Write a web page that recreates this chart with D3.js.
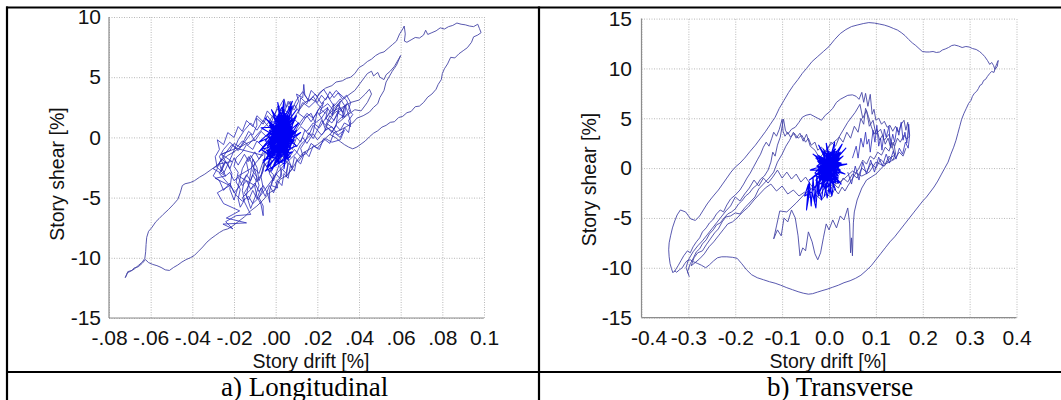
<!DOCTYPE html>
<html lang="en">
<head>
<meta charset="UTF-8" />
<title>Story shear vs story drift</title>
<script src="https://d3js.org/d3.v7.min.js"></script>
<style>
  body { margin: 0; background: #fff; }
  svg { display: block; }
  .grid line { stroke: #b8b8b8; stroke-dasharray: 1,1.5; }
  .outer { fill: none; stroke: #4646a6; stroke-width: 0.9; stroke-linejoin: round; }
  .band { fill: none; stroke: #2a2ab8; stroke-width: 0.8; stroke-linejoin: round; }
  .core { fill: none; stroke: #0000f5; stroke-width: 1.1; stroke-linejoin: round; }
</style>
</head>
<body>
<svg width="1061" height="400"></svg>
<script>
// ---- a) Longitudinal: [drift %, shear %] ----
const longXTicks = [-0.08, -0.06, -0.04, -0.02, 0, 0.02, 0.04, 0.06, 0.08, 0.1];
const longXLabels = ["-.08", "-.06", "-.04", "-.02", ".00", ".02", ".04", ".06", ".08", "0.1"];
const longYTicks = [-15, -10, -5, 0, 5, 10];

const longOuter = [
  [0.004,0.6],[0.008,1.4],[0.011,2.2],[0.014,2.9],[0.017,3.2],[0.019,3.0],[0.021,3.7],[0.024,4.1],[0.027,4.3],
  [0.029,4.6],[0.032,4.7],[0.034,4.9],[0.036,5.0],[0.038,5.3],[0.040,5.8],[0.042,6.0],[0.044,6.3],[0.046,6.5],
  [0.048,6.8],[0.050,7.0],[0.052,7.1],[0.054,7.4],[0.056,7.7],[0.058,8.0],[0.0595,8.6],[0.061,9.0],[0.0617,9.25],
  [0.0622,8.6],[0.0618,8.0],[0.063,7.9],[0.065,8.1],[0.067,8.3],[0.069,8.25],[0.071,8.5],[0.072,8.9],[0.073,8.55],
  [0.075,8.7],[0.077,8.85],[0.079,9.1],[0.081,9.0],[0.083,9.2],[0.085,9.3],[0.087,9.5],[0.089,9.4],[0.091,9.35],
  [0.093,9.25],[0.095,9.2],[0.097,9.4],[0.0978,9.05],[0.0986,8.7],[0.097,8.5],[0.095,8.35],[0.094,7.9],[0.092,7.45],
  [0.090,7.2],[0.088,6.95],[0.086,6.6],[0.084,6.65],[0.0825,6.1],[0.081,5.7],[0.080,5.3],[0.0795,4.8],[0.078,4.4],
  [0.077,4.0],[0.075,3.6],[0.073,3.35],[0.071,2.9],[0.069,2.6],[0.067,2.55],[0.065,2.15],[0.063,2.05],[0.061,1.75],
  [0.059,1.65],[0.057,1.3],[0.055,1.25],[0.053,1.0],[0.051,0.85],[0.049,0.55],[0.047,0.35],[0.045,0.05],[0.043,-0.3],
  [0.041,-0.55],[0.039,-0.8],[0.037,-0.95],[0.035,-0.8],[0.033,-0.6],[0.031,-0.35],[0.029,-0.05],[0.026,0.25],
  [0.023,-0.2],[0.020,-0.6],[0.016,-1.0],[0.013,-1.3],[0.010,-2.0],[0.008,-2.6],[0.005,-3.2],[0.002,-3.5],[0.000,-4.3],
  [-0.003,-4.6],[-0.006,-5.2],[-0.009,-5.7],[-0.012,-6.1],[-0.015,-6.6],[-0.018,-7.0],[-0.021,-7.4],[-0.023,-7.6],
  [-0.025,-7.7],[-0.027,-7.9],[-0.029,-8.15],[-0.031,-8.4],[-0.033,-8.7],[-0.035,-9.1],[-0.037,-9.45],[-0.039,-9.8],
  [-0.041,-10.0],[-0.043,-10.15],[-0.045,-10.35],[-0.047,-10.6],[-0.049,-10.8],[-0.051,-11.05],[-0.053,-11.0],
  [-0.055,-10.8],[-0.057,-10.65],[-0.059,-10.55],[-0.061,-10.4],[-0.0625,-10.15],[-0.064,-10.45],[-0.066,-10.75],
  [-0.068,-10.85],[-0.069,-11.05],[-0.071,-11.15],[-0.0715,-11.4],[-0.0722,-11.65],[-0.0712,-11.25],[-0.0695,-11.1],
  [-0.068,-10.95],[-0.066,-10.65],[-0.064,-10.35],[-0.0628,-10.05],[-0.0624,-9.5],[-0.0622,-8.9],[-0.0619,-8.3],
  [-0.061,-7.8],[-0.0595,-7.5],[-0.0575,-7.0],[-0.056,-6.75],[-0.054,-6.4],[-0.0515,-6.0],[-0.049,-5.55],[-0.047,-5.15],
  [-0.0458,-4.6],[-0.0448,-4.0],[-0.0435,-3.85],[-0.041,-3.75],[-0.039,-3.6],[-0.0365,-3.3],[-0.034,-3.05],
  [-0.032,-2.8],[-0.030,-2.55],[-0.028,-2.3],[-0.026,-1.9],[-0.023,-1.5],[-0.020,-1.2],[-0.017,-0.8],[-0.014,-0.5],[-0.010,-0.2]
];

const longUpper = [
  [0.024,1.6],[0.030,2.8],[0.034,3.4],[0.038,3.9],[0.041,4.6],[0.044,5.3],[0.046,5.5],[0.047,5.1],[0.049,5.4],
  [0.050,5.0],[0.052,4.8],[0.053,5.2],[0.055,5.5],[0.057,5.9],[0.059,6.5],[0.060,6.8],[0.058,6.0],[0.056,5.5],
  [0.053,4.6],[0.052,3.9],[0.050,3.3],[0.049,2.8],[0.047,2.5],[0.045,2.1],[0.042,1.8],[0.039,1.6],[0.037,1.2],
  [0.034,0.9],[0.031,0.6],[0.028,0.4],[0.024,0.9],[0.028,2.0],[0.032,2.5],[0.036,2.9],[0.040,3.1],[0.043,3.6],
  [0.045,4.0],[0.046,3.6],[0.044,2.9],[0.041,2.2],[0.038,2.3],[0.034,1.8],[0.030,1.2]
];

const longBand = [
  [0.000,0.2],[0.003,0.9],[0.002,1.5],[0.005,1.2],[0.007,2.0],[0.006,2.6],[0.009,2.3],[0.011,3.0],[0.010,3.6],
  [0.013,3.3],[0.0135,4.4],[0.014,3.5],[0.016,3.0],[0.018,3.4],[0.020,2.9],[0.022,3.5],[0.024,3.1],[0.026,3.8],
  [0.028,3.3],[0.030,3.7],[0.032,3.2],[0.034,3.5],[0.036,2.9],[0.035,2.3],[0.037,1.9],[0.035,1.4],[0.036,0.9],
  [0.033,1.2],[0.031,0.6],[0.029,1.0],[0.027,0.4],[0.025,0.8],[0.022,0.2],[0.020,0.6],[0.018,-0.1],[0.016,0.4],
  [0.014,-0.4],[0.012,-0.9],[0.013,-1.5],[0.011,-2.0],[0.009,-1.6],[0.008,-2.5],[0.006,-2.1],[0.005,-3.0],
  [0.003,-2.6],[0.002,-3.4],[0.000,-3.0],[-0.002,-3.8],[-0.003,-4.5],[-0.0028,-5.4],[-0.004,-4.6],[-0.006,-4.0],
  [-0.008,-4.5],[-0.010,-3.8],[-0.012,-4.3],[-0.014,-3.6],[-0.016,-4.0],[-0.018,-3.3],[-0.020,-3.6],[-0.022,-2.9],
  [-0.024,-3.2],[-0.026,-2.5],[-0.024,-2.0],[-0.026,-1.4],[-0.022,-1.1],[-0.020,-0.5],[-0.017,-0.8],[-0.015,-0.2],
  [-0.013,0.5],[-0.011,0.2],[-0.009,1.0],[-0.0092,1.6],[-0.006,1.1],[-0.004,1.8],[-0.002,1.3],[0.000,2.1],[0.002,2.6],
  [0.004,3.2],[0.005,2.5],[0.007,3.0],[0.008,1.0],[0.006,0.2],[0.007,-0.6],[0.004,-1.2],[0.005,-2.0],[0.002,-2.4],
  [0.003,-3.2],[0.000,-3.7],[0.001,-4.2],[-0.002,-4.0],[-0.001,-3.1],[-0.004,-2.6],[-0.003,-1.9],[-0.006,-2.4],
  [-0.007,-3.3],[-0.006,-4.2],[-0.008,-5.0],[-0.006,-5.7],[-0.006,-6.5],[-0.007,-5.6],[-0.009,-4.9],[-0.010,-4.1],
  [-0.009,-3.3],[-0.011,-2.8],[-0.010,-2.1],[-0.012,-1.5],[-0.014,-2.1],[-0.013,-2.9],[-0.015,-3.5],[-0.016,-4.4],
  [-0.015,-5.2],[-0.017,-5.8],[-0.018,-5.1],[-0.017,-4.3],[-0.019,-3.7],[-0.018,-2.9],[-0.020,-2.4],[-0.019,-1.7],
  [-0.016,-1.2],[-0.014,-0.6],[-0.011,-1.0],[-0.009,-0.3],[-0.006,-0.8],[-0.003,-0.2],[0.000,-0.7],[0.003,0.0],
  [0.006,-0.4],[0.009,0.3],[0.012,0.9],[0.015,0.5],[0.018,1.2],[0.021,0.8],[0.024,1.6],[0.027,1.2],[0.030,2.0],
  [0.033,1.7],[0.031,2.5],[0.028,2.2],[0.025,2.8],[0.022,2.4],[0.019,3.0],[0.016,2.5],[0.013,2.9],[0.011,2.2],
  [0.009,2.7],[0.007,1.9],[0.004,2.3],[0.002,1.6],[-0.001,1.9],[-0.004,1.1],[-0.007,0.6],[-0.010,0.0],[-0.013,-0.6],
  [-0.016,-0.3],[-0.019,-0.9],[-0.022,-0.4],[-0.025,-1.0],[-0.027,-1.6],[-0.025,-2.3],[-0.027,-3.0],[-0.024,-3.6],
  [-0.021,-4.2],[-0.019,-4.8],[-0.016,-5.3],[-0.013,-4.9],[-0.011,-5.5],[-0.008,-5.0],[-0.005,-4.3],[-0.002,-3.6],
  [0.001,-2.9],[0.004,-2.3],[0.007,-1.8],[0.010,-1.3],[0.012,-0.6],[0.015,-0.1],[0.018,0.4],[0.020,2.2],[0.023,2.9],
  [0.021,1.9],[0.025,2.5],[0.024,1.5],[0.028,2.8],[0.027,1.8],[0.031,3.0],[0.030,2.0],[0.033,2.6],[0.032,1.6],
  [0.036,2.2],[0.034,3.1],[0.029,3.9],[0.026,3.2],[0.023,4.0],[0.020,3.4],[0.017,3.9],[0.015,2.8],[0.012,3.3],
  [0.011,2.0],[0.014,1.6],[0.017,2.0],[0.019,1.2],[0.022,1.6],[0.024,0.6],[0.027,0.9],[0.030,0.2],[0.033,0.6],
  [0.031,-0.2],[0.027,-0.4],[0.024,-0.1],[0.020,-0.9],[0.017,-0.5],[0.015,-1.3],[0.012,-1.6],[0.009,-1.0],
  [0.006,-1.8],[0.008,-2.6],[0.005,-3.3],[0.006,-2.2],[0.003,-1.5],[0.001,-2.6],[-0.001,-3.6],[-0.003,-3.0],
  [-0.002,-1.9],[-0.005,-1.2],[-0.006,-2.8],[-0.008,-3.6],[-0.009,-2.5],[-0.011,-1.8],[-0.012,-3.0],[-0.014,-4.8],
  [-0.012,-5.9],[-0.010,-5.0],[-0.008,-4.0],[-0.010,-2.7],[-0.013,-1.6],[-0.016,-2.6],[-0.018,-4.1],[-0.020,-5.2],
  [-0.022,-4.3],[-0.021,-3.0],[-0.023,-2.2],[-0.026,-1.8],[-0.028,-2.5],[-0.025,-3.0],[-0.021,-1.5],[-0.018,-0.2],
  [-0.015,0.6],[-0.012,1.2],[-0.009,0.6],[-0.006,1.4],[-0.003,0.8],[0.000,1.2],[0.003,0.5],[0.006,1.0],[0.009,0.4],
  [0.012,1.3],[0.015,2.0],[0.018,1.6],[0.021,2.4],[0.024,2.0]
];

const longBand2 = [
  [0.004,-0.5],[0.002,-1.3],[0.000,-0.6],[-0.003,-1.5],[-0.005,-0.9],[-0.008,-1.8],[-0.010,-1.2],[-0.013,-2.0],
  [-0.015,-1.4],[-0.018,-2.3],[-0.020,-1.7],[-0.022,-2.6],[-0.024,-2.0],[-0.026,-2.8],[-0.027,-2.1],[-0.024,-1.3],
  [-0.021,-0.6],[-0.018,-1.1],[-0.015,-0.4],[-0.012,0.3],[-0.010,-0.3],[-0.007,0.5],[-0.004,0.0],[-0.002,0.8],
  [0.001,0.4],[0.004,1.2],[0.006,0.7],[0.009,1.5],[0.012,1.0],[0.015,1.8],[0.017,1.3],[0.020,2.1],[0.022,1.6],
  [0.025,2.4],[0.027,1.9],[0.030,2.7],[0.032,2.1],[0.034,2.8],[0.033,1.9],[0.030,1.4],[0.028,0.7],[0.025,1.1],
  [0.023,0.4],[0.020,-0.2],[0.018,0.3],[0.015,-0.5],[0.013,0.0],[0.010,-0.8],[0.008,-0.2],[0.005,-1.1],[0.003,-2.0],
  [0.001,-1.4],[-0.001,-2.3],[-0.003,-2.9],[-0.005,-2.2],[-0.007,-3.1],[-0.009,-3.7],[-0.011,-3.1],[-0.013,-4.0],
  [-0.015,-4.6],[-0.013,-5.2],[-0.011,-4.4],[-0.009,-5.1],[-0.007,-4.2],[-0.005,-4.9],[-0.003,-4.0],[-0.001,-4.6],
  [0.001,-3.6],[0.003,-4.0],[0.004,-3.0],[0.006,-3.4],[0.007,-2.4],[0.009,-2.8],[0.010,-1.9],[0.012,-2.2],
  [0.014,-1.2],[0.016,-1.6],[0.018,-0.7],[0.021,-1.0],[0.023,-0.1],[0.026,-0.5],[0.028,0.4],[0.031,0.0],[0.033,0.8],
  [0.035,0.4],[0.036,1.3],[0.034,2.4],[0.031,3.2],[0.028,2.6],[0.025,3.4],[0.022,2.8],[0.019,3.6],[0.016,3.0],
  [0.013,3.8],[0.010,3.1],[0.008,2.4],[0.006,3.0],[0.004,2.0],[0.001,2.6],[-0.001,1.6],[-0.004,2.2],[-0.006,1.3],
  [-0.009,1.8],[-0.011,0.9],[-0.014,1.4],[-0.016,0.5],[-0.018,0.9],[-0.020,0.0],[-0.023,0.4],[-0.025,-0.6],
  [-0.028,-0.2],[-0.027,-1.0],[-0.029,-1.6],[-0.028,-2.6],[-0.030,-3.2],[-0.027,-3.6],[-0.025,-4.4],[-0.022,-3.8],
  [-0.020,-4.6],[-0.017,-4.0],[-0.014,-3.1],[-0.012,-3.6],[-0.010,-2.6],[-0.008,-3.0],[-0.006,-2.0],[-0.004,-2.5],
  [-0.002,-1.6],[0.000,-2.0],[0.002,-1.1],[0.004,-1.5],[0.006,-0.6],[0.008,-1.0],[0.010,0.0],[0.012,-0.4],
  [0.014,0.6],[0.016,0.2],[0.018,1.0],[0.020,0.6],[0.022,1.4],[0.024,1.0],[0.026,1.8],[0.028,1.4],[0.030,2.2],
  [0.029,1.0],[0.026,0.2]
];

const longLobe = [
  [-0.006,-1.5],[-0.019,-0.9],[-0.026,-1.4],[-0.021,-2.0],[-0.027,-2.2],[-0.030,-2.6],[-0.024,-3.2],[-0.029,-3.4],
  [-0.022,-4.0],[-0.028,-4.6],[-0.025,-5.5],[-0.0173,-6.1],[-0.0237,-6.7],[-0.014,-7.1],[-0.0253,-7.2],[-0.0205,-7.6],
  [-0.024,-7.0],[-0.019,-6.5],[-0.012,-6.4],[-0.016,-5.0],[-0.010,-4.0],[-0.018,-3.2],[-0.012,-2.6],[-0.004,-1.0]
];

const longCore = [
  [0.002,0.1],[0.006,1.3],[-0.002,-1.1],[0.004,1.5],[-0.003,-0.4],[0.007,0.7],[-0.001,-1.5],[0.005,1.9],[0.000,-0.9],
  [0.008,1.0],[-0.004,-1.2],[0.003,0.4],[0.006,-0.6],[-0.002,1.1],[0.004,-1.3],[0.001,1.4],[0.007,-0.2],[-0.003,0.6],
  [0.005,-1.8],[0.002,2.2],[0.008,0.3],[-0.004,-0.7],[0.003,1.0],[0.000,-2.0],[0.006,1.6],[-0.001,0.0],[0.005,-0.9],
  [-0.003,1.3],[0.007,1.2],[0.001,-1.2],[0.004,2.4],[-0.002,-0.2],[0.008,-0.5],[0.000,0.8],[0.005,0.1],[-0.004,-1.6],
  [0.003,1.8],[0.006,-1.2],[-0.001,0.5],[0.007,1.9],[0.002,-0.6],[-0.003,-1.9],[0.005,0.9],[0.001,-0.1],[0.009,1.4],
  [-0.002,0.9],[0.004,-0.4],[-0.005,-0.3],[0.002,1.2],[0.007,-1.0],[-0.001,-0.8],[0.005,2.0],[0.000,0.3],[0.006,0.5],
  [-0.003,-1.3],[0.003,-1.6],[0.008,0.8],[0.001,1.7],[-0.002,-0.5],[0.004,0.2],[0.006,1.0],[-0.004,0.2],[0.002,-1.4],
  [0.007,0.0],[-0.001,1.8],[0.003,-0.8],[0.009,0.5],[0.000,-1.7],[0.005,1.4],[-0.003,0.4],[0.004,-1.1],[0.001,0.6],
  [0.007,1.6],[-0.002,-1.0],[0.005,-0.3],[0.002,2.0],[-0.004,-0.9],[0.006,0.3],[0.001,-2.2],[0.004,1.1],[-0.001,0.1],
  [0.008,-0.2],[0.002,0.9],[-0.003,-0.6],[0.005,0.6],[0.000,1.4],[0.006,-1.5],[-0.002,0.7],[0.003,2.5],[0.007,0.9],
  [-0.001,-1.3],[0.004,0.0],[0.001,-0.4],[0.006,1.8],[-0.004,-1.4],[0.002,0.3],[0.001,-0.9],[0.006,1.2],[-0.002,0.2],
  [0.005,-1.4],[0.003,1.6],[-0.003,-0.8],[0.007,0.5],[0.000,-1.3],[0.004,1.0],[-0.001,0.6],[0.006,-0.7],[0.002,1.9],
  [-0.002,-1.7],[0.008,1.6],[0.001,0.0],[0.005,-0.1],[-0.003,1.0],[0.006,-1.8],[0.002,0.5],[0.004,-0.5],
  [0.010,1.8],[-0.003,-0.8],[0.008,2.6],[0.001,-1.4],[0.011,1.2],[-0.004,-1.1],[0.012,0.4],[-0.002,-1.6],[0.010,-0.7],
  [-0.003,1.2],[0.006,-1.9],[0.005,1.6],[0.004,-2.6],[0.007,1.0],[-0.002,-2.8],[0.008,0.6],[-0.006,-2.1],[0.007,1.4],
  [-0.008,-1.2],[0.006,1.8],[-0.008,-0.4],[0.008,0.9],[-0.007,0.8],[0.007,-0.6],[-0.005,1.6],[0.008,-0.3],
  [-0.002,2.3],[0.006,-1.2],[0.001,2.9],[0.004,-1.6],[0.004,3.1],[0.000,-1.2],[0.008,3.0],[-0.002,-0.6],[0.010,2.3],
  [0.000,0.0],[-0.004,-2.4],[0.006,-0.6],[-0.006,-1.9],[0.008,-1.2],[-0.002,-2.6],[0.009,-0.2],[-0.007,-1.0],
  [0.004,-2.2],[0.010,0.6],[-0.005,-2.8],[0.007,-1.6],[-0.003,-0.4]
];

// ---- b) Transverse: [drift %, shear %] ----
const transXTicks = [-0.4, -0.3, -0.2, -0.1, 0, 0.1, 0.2, 0.3, 0.4];
const transXLabels = ["-0.4", "-0.3", "-0.2", "-0.1", "0.0", "0.1", "0.2", "0.3", "0.4"];
const transYTicks = [-15, -10, -5, 0, 5, 10, 15];

const transOuter = [
  [-0.285,-5.25],[-0.295,-5.1],[-0.306,-4.4],[-0.317,-4.2],[-0.324,-4.7],[-0.329,-5.3],[-0.334,-6.0],[-0.338,-6.8],
  [-0.341,-7.5],[-0.342,-8.2],[-0.341,-8.9],[-0.339,-9.6],[-0.336,-10.1],[-0.333,-10.5],[-0.329,-10.3],[-0.325,-10.45],
  [-0.319,-10.2],[-0.313,-10.0],[-0.308,-9.6],[-0.303,-9.3],[-0.296,-9.2],[-0.289,-9.4],[-0.281,-9.55],[-0.272,-9.75],
  [-0.263,-10.0],[-0.255,-9.7],[-0.246,-9.3],[-0.238,-9.0],[-0.229,-8.9],[-0.218,-8.9],[-0.206,-8.95],[-0.196,-9.05],
  [-0.186,-9.6],[-0.176,-10.2],[-0.165,-10.7],[-0.153,-11.0],[-0.14,-11.2],[-0.127,-11.4],[-0.115,-11.55],
  [-0.103,-11.75],[-0.09,-12.0],[-0.078,-12.2],[-0.066,-12.4],[-0.055,-12.55],[-0.044,-12.65],[-0.035,-12.6],
  [-0.025,-12.45],[-0.015,-12.3],[-0.004,-12.15],[0.008,-11.95],[0.02,-11.75],[0.032,-11.5],[0.045,-11.3],
  [0.057,-11.05],[0.068,-10.75],[0.079,-10.3],[0.09,-9.8],[0.1,-9.2],[0.11,-8.6],[0.12,-8.0],[0.13,-7.4],[0.14,-6.9],
  [0.15,-6.3],[0.16,-5.7],[0.17,-5.1],[0.18,-4.5],[0.19,-3.9],[0.2,-3.3],[0.208,-2.9],[0.216,-2.4],[0.224,-1.9],
  [0.232,-1.3],[0.24,-0.6],[0.247,0.0],[0.254,0.6],[0.26,1.4],[0.266,2.1],[0.271,2.8],[0.275,3.5],[0.279,4.2],
  [0.283,4.9],[0.288,5.5],[0.293,6.0],[0.298,6.5],[0.303,6.8],[0.306,7.2],[0.31,7.5],[0.315,7.7],[0.319,8.0],
  [0.322,8.3],[0.326,8.4],[0.33,8.8],[0.334,8.9],[0.338,9.2],[0.343,9.5],[0.347,9.7],[0.352,9.6],[0.355,10.1],
  [0.358,10.5],[0.361,10.8],[0.359,10.2],[0.354,9.9],[0.351,10.3],[0.347,10.6],[0.343,10.4],[0.338,10.8],
  [0.332,11.2],[0.326,11.5],[0.321,11.7],[0.314,11.9],[0.306,12.0],[0.299,12.15],[0.292,12.2],[0.284,12.1],
  [0.276,12.25],[0.268,12.35],[0.262,12.3],[0.255,12.1],[0.248,11.95],[0.242,11.85],[0.236,11.65],[0.229,11.6],
  [0.222,11.7],[0.214,11.65],[0.207,11.65],[0.199,11.7],[0.192,12.0],[0.185,12.3],[0.178,12.55],[0.17,12.9],
  [0.162,13.3],[0.154,13.6],[0.146,13.85],[0.138,14.0],[0.128,14.2],[0.118,14.35],[0.108,14.45],[0.097,14.55],
  [0.085,14.6],[0.073,14.5],[0.06,14.35],[0.048,14.2],[0.036,13.9],[0.024,13.5],[0.012,12.9],[0.0,12.2],
  [-0.012,11.7],[-0.024,11.2],[-0.036,10.7],[-0.048,10.0],[-0.057,9.5],[-0.066,8.9],[-0.076,8.3],[-0.086,7.6],
  [-0.096,6.8],[-0.106,6.0],[-0.115,5.1],[-0.125,4.4],[-0.135,3.7],[-0.146,3.0],[-0.157,2.3],[-0.168,1.7],
  [-0.18,1.0],[-0.19,0.5],[-0.2,0.1],[-0.209,-0.4],[-0.218,-1.0],[-0.227,-1.6],[-0.236,-2.2],[-0.245,-2.7],
  [-0.252,-3.1],[-0.26,-3.6],[-0.268,-4.2],[-0.276,-4.8],[-0.285,-5.25]
];

const transStrands = [
  [-0.298,-10.9],[-0.302,-10.4],[-0.296,-9.6],[-0.289,-9.0],[-0.283,-8.4],[-0.276,-8.1],[-0.27,-7.6],[-0.262,-7.2],
  [-0.255,-6.6],[-0.247,-6.2],[-0.24,-5.7],[-0.232,-5.5],[-0.224,-5.0],[-0.216,-4.6],[-0.208,-4.4],[-0.2,-4.1],
  [-0.193,-3.6],[-0.186,-3.3],[-0.178,-2.8],[-0.17,-2.5],[-0.162,-2.0],[-0.154,-1.7],[-0.146,-1.1],[-0.138,-0.8],
  [-0.13,-0.2],[-0.124,0.6],[-0.12,1.6],[-0.115,1.2],[-0.11,2.3],[-0.104,3.1],[-0.1,4.2],[-0.097,4.9],[-0.093,3.8],
  [-0.088,3.4],[-0.08,3.9],[-0.072,4.1],[-0.064,4.6],[-0.057,5.1],[-0.049,5.3],[-0.04,5.4],[-0.032,5.2],[-0.024,5.0],
  [-0.016,4.8],[-0.008,5.3],[0.0,5.6],[0.008,6.0],[0.016,6.6],[0.024,6.9],[0.032,7.1],[0.04,7.3],[0.05,7.35],
  [0.058,7.2],[0.064,6.9],[0.07,7.6],[0.074,6.6],[0.078,7.5],[0.083,6.2],[0.088,7.4],[0.092,5.4],[0.096,5.9],
  [0.1,4.8],[0.106,5.0],[0.112,4.4],[0.118,4.7],[0.124,4.1],[0.13,4.3],[0.136,3.7],[0.142,4.2],[0.148,3.6],
  [0.154,4.4],[0.16,4.8],[0.164,3.8],[0.168,4.6],[0.171,3.2],[0.166,2.9],[0.16,3.3],[0.152,2.6],[0.146,3.0],
  [0.14,2.2],[0.134,2.6],[0.128,1.7],[0.12,2.1],[0.112,1.3],[0.104,1.6],[0.096,0.9],[0.088,1.2],[0.08,0.4],
  [0.072,0.8],[0.064,0.0],[0.056,-0.6],[0.048,-1.2],[0.04,-1.8],[0.034,-2.3],[0.028,-1.9],[0.02,-2.6],[0.012,-2.1],
  [0.004,-2.9],[-0.006,-2.6],[-0.016,-3.2],[-0.028,-2.7],[-0.04,-3.0],[-0.052,-2.4],[-0.064,-2.8],[-0.076,-2.2],
  [-0.088,-2.6],[-0.1,-1.8],[-0.112,-2.3],[-0.124,-1.6],[-0.136,-2.0],[-0.148,-2.6],[-0.16,-3.2],[-0.172,-3.9],
  [-0.184,-4.4],[-0.196,-5.0],[-0.206,-5.4],[-0.216,-5.6],[-0.226,-6.2],[-0.236,-6.8],[-0.246,-7.4],[-0.256,-7.9],
  [-0.266,-8.6],[-0.276,-9.1],[-0.286,-9.5],[-0.294,-9.8],[-0.288,-9.0],[-0.28,-8.5],[-0.27,-8.3],[-0.262,-7.7],
  [-0.253,-7.1],[-0.244,-6.5],[-0.236,-6.1],[-0.228,-5.4],[-0.22,-4.9],[-0.21,-4.8],[-0.2,-4.5],[-0.19,-4.6],
  [-0.18,-4.0],[-0.168,-3.4],[-0.158,-2.9],[-0.15,-2.1],[-0.14,-1.6],[-0.128,-1.0],[-0.118,-0.4],[-0.11,0.6],
  [-0.1,1.4],[-0.092,2.2],[-0.084,2.8],[-0.076,3.6],[-0.07,3.0],[-0.062,3.5],[-0.055,2.7],[-0.048,3.4],[-0.04,2.2],
  [-0.03,1.8],[-0.02,1.0],[0.0,2.2],[0.02,3.0],[0.04,4.6],[0.056,5.6],[0.066,6.4],[0.072,5.0],[0.08,5.8],[0.086,4.2],
  [0.094,4.8],[0.1,3.4],[0.11,3.9],[0.118,2.8],[0.128,3.4],[0.136,2.0],[0.14,1.3],[0.13,1.0],[0.118,0.2],[0.1,0.6],
  [0.086,-0.4],[0.07,-0.8],[0.05,-0.3],[0.034,-1.0],[0.02,-1.5],[0.0,-1.8],[-0.02,-1.5],[-0.05,-2.5],[-0.07,-3.5],
  [-0.09,-4.4],[-0.105,-4.3],[-0.112,-5.8],[-0.118,-7.1],[-0.11,-6.2],[-0.102,-6.8],[-0.096,-5.0],[-0.088,-5.4],
  [-0.08,-4.2],[-0.072,-5.0],[-0.066,-6.8],[-0.062,-8.8],[-0.056,-8.0],[-0.05,-8.3],[-0.044,-6.4],[-0.036,-7.4],
  [-0.03,-8.6],[-0.024,-9.2],[-0.018,-8.5],[-0.012,-7.0],[-0.006,-5.6],[0.0,-6.2],[0.008,-5.2],[0.016,-6.0],
  [0.024,-4.8],[0.032,-5.2],[0.04,-4.0],[0.044,-5.6],[0.046,-8.5],[0.048,-7.0],[0.05,-8.8],[0.052,-5.5],[0.054,-4.4],
  [0.06,-3.2],[0.07,-2.0],[0.08,-1.2],[0.1,-0.6],[0.12,0.4],[0.14,0.9],[0.15,1.6],[0.158,1.2],[0.164,2.0]
];

const transStrands2 = [
  [-0.33,-10.4],[-0.322,-9.8],[-0.316,-9.3],[-0.31,-8.8],[-0.302,-8.3],[-0.296,-8.5],[-0.29,-7.9],[-0.283,-7.4],
  [-0.276,-7.0],[-0.27,-6.4],[-0.262,-6.0],[-0.255,-5.5],[-0.248,-5.2],[-0.24,-4.6],[-0.232,-4.2],[-0.225,-4.4],
  [-0.218,-3.7],[-0.21,-3.1],[-0.2,-2.7],[-0.19,-2.2],[-0.182,-1.6],[-0.175,-1.0],[-0.168,-0.5],[-0.16,0.2],
  [-0.152,0.9],[-0.146,1.4],[-0.14,2.1],[-0.134,2.6],[-0.128,2.2],[-0.122,3.0],[-0.118,3.6],[-0.112,3.2],
  [-0.106,3.9],[-0.1,4.9],[-0.098,3.7],[-0.094,3.2],[-0.088,3.6],[-0.082,3.1],[-0.074,3.5],[-0.066,3.0],
  [-0.058,3.3],[-0.05,2.6],[-0.044,3.0],[-0.038,2.3],[-0.03,2.6],[-0.024,1.8],[-0.016,2.1],[-0.006,1.6],[0.004,2.6],
  [0.014,2.2],[0.022,3.1],[0.03,2.6],[0.038,3.6],[0.046,3.0],[0.054,4.2],[0.062,3.6],[0.068,5.0],[0.074,4.4],
  [0.078,6.0],[0.084,5.2],[0.09,4.2],[0.096,3.4],[0.102,3.9],[0.108,2.8],[0.114,3.3],[0.12,2.4],[0.126,3.0],
  [0.132,2.0],[0.138,2.6],[0.142,1.4],[0.136,0.8],[0.128,1.2],[0.12,0.4],[0.11,0.9],[0.1,0.0],[0.09,0.5],[0.08,-0.4],
  [0.07,0.0],[0.06,-1.0],[0.05,-0.6],[0.04,-1.4],[0.03,-1.0],[0.02,-2.0],[0.01,-1.6],[0.0,-2.4],[-0.01,-2.0],
  [-0.02,-2.8],[-0.03,-2.2],[-0.04,-1.6],[-0.05,-0.9],[-0.06,-1.4],[-0.07,-0.6],[-0.08,-1.1],[-0.09,-0.4],[-0.1,-1.0],
  [-0.11,-0.2],[-0.12,-0.9],[-0.13,-1.5],[-0.14,-1.0],[-0.15,-1.8],[-0.16,-1.2],[-0.17,-2.0],[-0.18,-2.6],
  [-0.19,-3.3],[-0.2,-2.9],[-0.21,-3.8],[-0.22,-4.3],[-0.23,-4.9],[-0.24,-5.5],[-0.25,-6.1],[-0.26,-6.7],
  [-0.27,-7.3],[-0.28,-7.8],[-0.29,-8.4],[-0.3,-9.2],[-0.305,-10.0],[-0.3,-10.6]
];

const transRight = [
  [0.05,1.0],[0.058,2.2],[0.062,1.0],[0.068,3.0],[0.073,2.1],[0.078,3.6],[0.081,2.4],[0.085,2.9],[0.088,1.6],
  [0.094,3.8],[0.098,2.6],[0.102,4.3],[0.106,2.2],[0.11,3.0],[0.113,1.8],[0.118,3.9],[0.122,3.1],[0.128,4.2],
  [0.131,2.2],[0.136,3.4],[0.14,2.6],[0.145,4.1],[0.149,3.3],[0.154,4.6],[0.158,2.8],[0.162,3.6],[0.166,2.5],
  [0.17,4.4],[0.172,3.3],[0.169,2.0],[0.163,2.6],[0.157,1.4],[0.15,2.0],[0.143,0.9],[0.137,1.7],[0.129,0.5],
  [0.122,1.4],[0.114,0.2],[0.106,1.1],[0.097,-0.4],[0.089,0.8],[0.08,-0.6],[0.072,0.6],[0.064,-1.2],[0.056,0.2],
  [0.048,-1.6],[0.04,-0.4]
];

const transCore = [
  [0.000,0.1],[0.014,1.2],[-0.018,-1.0],[0.020,0.6],[-0.010,-1.3],[0.008,1.4],[-0.024,-0.3],[0.018,-0.8],[-0.006,1.1],
  [0.024,1.0],[-0.028,-1.2],[0.004,0.4],[0.016,-1.2],[-0.014,0.8],[0.010,-0.4],[-0.020,1.2],[0.022,0.2],[-0.004,-1.4],
  [0.012,1.6],[-0.026,0.2],[0.006,-0.9],[-0.012,1.5],[0.020,1.4],[-0.008,-0.5],[0.018,0.9],[-0.022,-0.7],[0.002,1.3],
  [-0.016,-1.6],[0.024,-0.3],[-0.002,0.6],[0.014,-1.5],[-0.030,-0.5],[0.010,1.8],[-0.010,0.0],[0.026,0.5],[-0.018,1.0],
  [0.004,-1.1],[-0.024,0.7],[0.016,1.7],[-0.006,-0.9],[0.020,-1.0],[-0.014,-0.2],[0.008,0.7],[-0.028,1.0],[0.012,-0.7],
  [-0.002,1.7],[0.022,1.2],[-0.020,-1.4],[0.006,0.2],[-0.012,1.9],[0.018,-0.4],[-0.026,-1.8],[0.000,1.0],[0.014,-0.1],
  [-0.008,-1.8],[0.024,1.6],[-0.016,0.5],[0.010,-1.6],[-0.004,0.3],[0.020,0.0],[0.006,0.9],[-0.016,-0.9],[0.018,1.5],
  [-0.006,-1.6],[0.012,0.3],[-0.024,1.3],[0.022,-0.6],[-0.010,0.7],[0.004,-1.5],[-0.020,0.1],[0.016,0.6],[-0.002,-0.6],
  [0.024,0.4],[-0.014,1.7],[0.008,-1.2],[-0.028,-0.8],[0.014,1.9],[-0.004,1.3],[0.020,-1.5],[-0.018,-0.2],
  [0.030,1.2],[-0.020,-1.0],[0.036,2.0],[-0.016,-0.6],[0.028,2.4],[-0.012,-1.4],[0.012,2.6],[0.004,-1.6],[-0.006,2.5],
  [0.014,-1.2],[-0.022,2.3],[0.020,-0.8],[-0.034,1.4],[0.024,-0.2],[-0.040,-0.2],[0.022,0.8],[-0.042,-1.2],[0.018,1.2],
  [-0.034,-2.2],[0.020,1.6],[-0.022,-2.6],[0.012,1.8],[-0.010,-2.8],[0.008,1.6],[0.002,-2.6],[-0.012,1.4],
  [0.014,-2.2],[-0.020,1.2],[0.026,-1.6],[-0.024,0.8],[0.034,-0.6],[-0.026,0.2],[0.038,0.4],[-0.020,-0.2],
  [-0.020,-0.6],[-0.022,-2.8],[-0.026,-0.8],[-0.030,-3.4],[-0.034,-1.0],[-0.038,-3.8],[-0.042,-1.4],[-0.046,-3.2],
  [-0.040,-2.0],[-0.048,-4.2],[-0.044,-1.6],[-0.052,-2.8],[-0.036,-2.4],[-0.028,-4.0],[-0.024,-1.6],[-0.016,-3.2],
  [-0.010,-1.0],[-0.004,-3.0],[0.002,-1.4],[0.006,-2.8],[0.012,-0.8],[-0.008,-2.2],[-0.018,-0.4],[-0.002,0.0]
];

const svg = d3.select("svg");
const sans = "'Liberation Sans', Arial, sans-serif";

const panels = [
  {
    x: d3.scaleLinear([-0.08, 0.1], [109, 484]),
    y: d3.scaleLinear([-15, 10], [318, 17]),
    xTicks: longXTicks, xLabels: longXLabels, yTicks: longYTicks,
    series: [[longOuter, "outer"], [longUpper, "outer"], [longLobe, "band"], [longBand, "band"],
             [longBand2, "band"], [longCore, "core"]],
    xTitle: [311, 368], yTitle: [64, 174], yLabelX: 101,
    caption: [221, "a) Longitudinal"]
  },
  {
    x: d3.scaleLinear([-0.4, 0.4], [641.5, 1016.5]),
    y: d3.scaleLinear([-15, 15], [317.6, 18.6]),
    xTicks: transXTicks, xLabels: transXLabels, yTicks: transYTicks,
    series: [[transOuter, "outer"], [transStrands, "outer"], [transStrands2, "outer"], [transRight, "band"],
             [transCore, "core"]],
    xTitle: [828, 368], yTitle: [596, 179.5], yLabelX: 632,
    caption: [767, "b) Transverse"]
  }
];

panels.forEach((p, k) => {
  const [x0, x1] = p.x.range();
  const [yb, yt] = p.y.range();
  const g = svg.append("g");

  // dotted grid
  g.append("g").attr("class", "grid")
    .attr("transform", `translate(0,${yb})`)
    .call(d3.axisBottom(p.x).tickValues(p.xTicks).tickSize(-(yb - yt)).tickFormat(""))
    .call(s => s.select(".domain").remove());
  g.append("g").attr("class", "grid")
    .attr("transform", `translate(${x0},0)`)
    .call(d3.axisLeft(p.y).tickValues(p.yTicks).tickSize(-(x1 - x0)).tickFormat(""))
    .call(s => s.select(".domain").remove());

  // solid left and bottom axis lines
  g.append("line").attr("x1", x0).attr("x2", x0).attr("y1", yt).attr("y2", yb)
    .attr("stroke", "#8c8c8c").attr("stroke-width", 1.2);
  g.append("line").attr("x1", x0).attr("x2", x1).attr("y1", yb).attr("y2", yb)
    .attr("stroke", "#8c8c8c").attr("stroke-width", 1.2);

  // tick labels
  const xa = g.append("g")
    .attr("transform", `translate(0,${yb})`)
    .call(d3.axisBottom(p.x).tickValues(p.xTicks).tickSize(0).tickPadding(12)
      .tickFormat((d, i) => p.xLabels[i]))
    .call(s => s.select(".domain").remove());
  if (k === 1) xa.select(".tick text").attr("dx", 7);
  const ya = g.append("g")
    .attr("transform", `translate(${p.yLabelX},0)`)
    .call(d3.axisLeft(p.y).tickValues(p.yTicks).tickSize(0).tickPadding(0).tickFormat(d => String(d)))
    .call(s => s.select(".domain").remove());
  [xa, ya].forEach(a => a.selectAll("text")
    .style("font-family", sans).style("font-size", "21px").style("fill", "#111"));

  // traces
  const line = d3.line().x(d => p.x(d[0])).y(d => p.y(d[1]));
  p.series.forEach(([data, cls]) => {
    g.append("path").attr("class", cls).attr("d", line(data));
  });

  // titles
  g.append("text")
    .attr("x", p.xTitle[0]).attr("y", p.xTitle[1])
    .attr("text-anchor", "middle")
    .style("font-family", sans).style("font-size", "19.5px").style("fill", "#111")
    .text("Story drift [%]");
  g.append("text")
    .attr("transform", `translate(${p.yTitle[0]},${p.yTitle[1]}) rotate(-90)`)
    .attr("text-anchor", "middle")
    .style("font-family", sans).style("font-size", "19.5px").style("fill", "#111")
    .text("Story shear [%]");

  svg.append("text")
    .attr("x", p.caption[0]).attr("y", 396)
    .style("font-family", "'Liberation Serif', 'Times New Roman', serif")
    .style("font-size", "27px").style("fill", "#000")
    .text(p.caption[1]);
});

// table borders
const borders = [
  [6, 7.5, 1061, 7.5], [7, 6.5, 7, 400], [539, 6.5, 539, 400], [6, 372, 1061, 372]
];
svg.selectAll("line.border").data(borders).join("line")
  .attr("class", "border")
  .attr("x1", d => d[0]).attr("y1", d => d[1]).attr("x2", d => d[2]).attr("y2", d => d[3])
  .attr("stroke", "#000").attr("stroke-width", 2.2);
</script>
</body>
</html>
